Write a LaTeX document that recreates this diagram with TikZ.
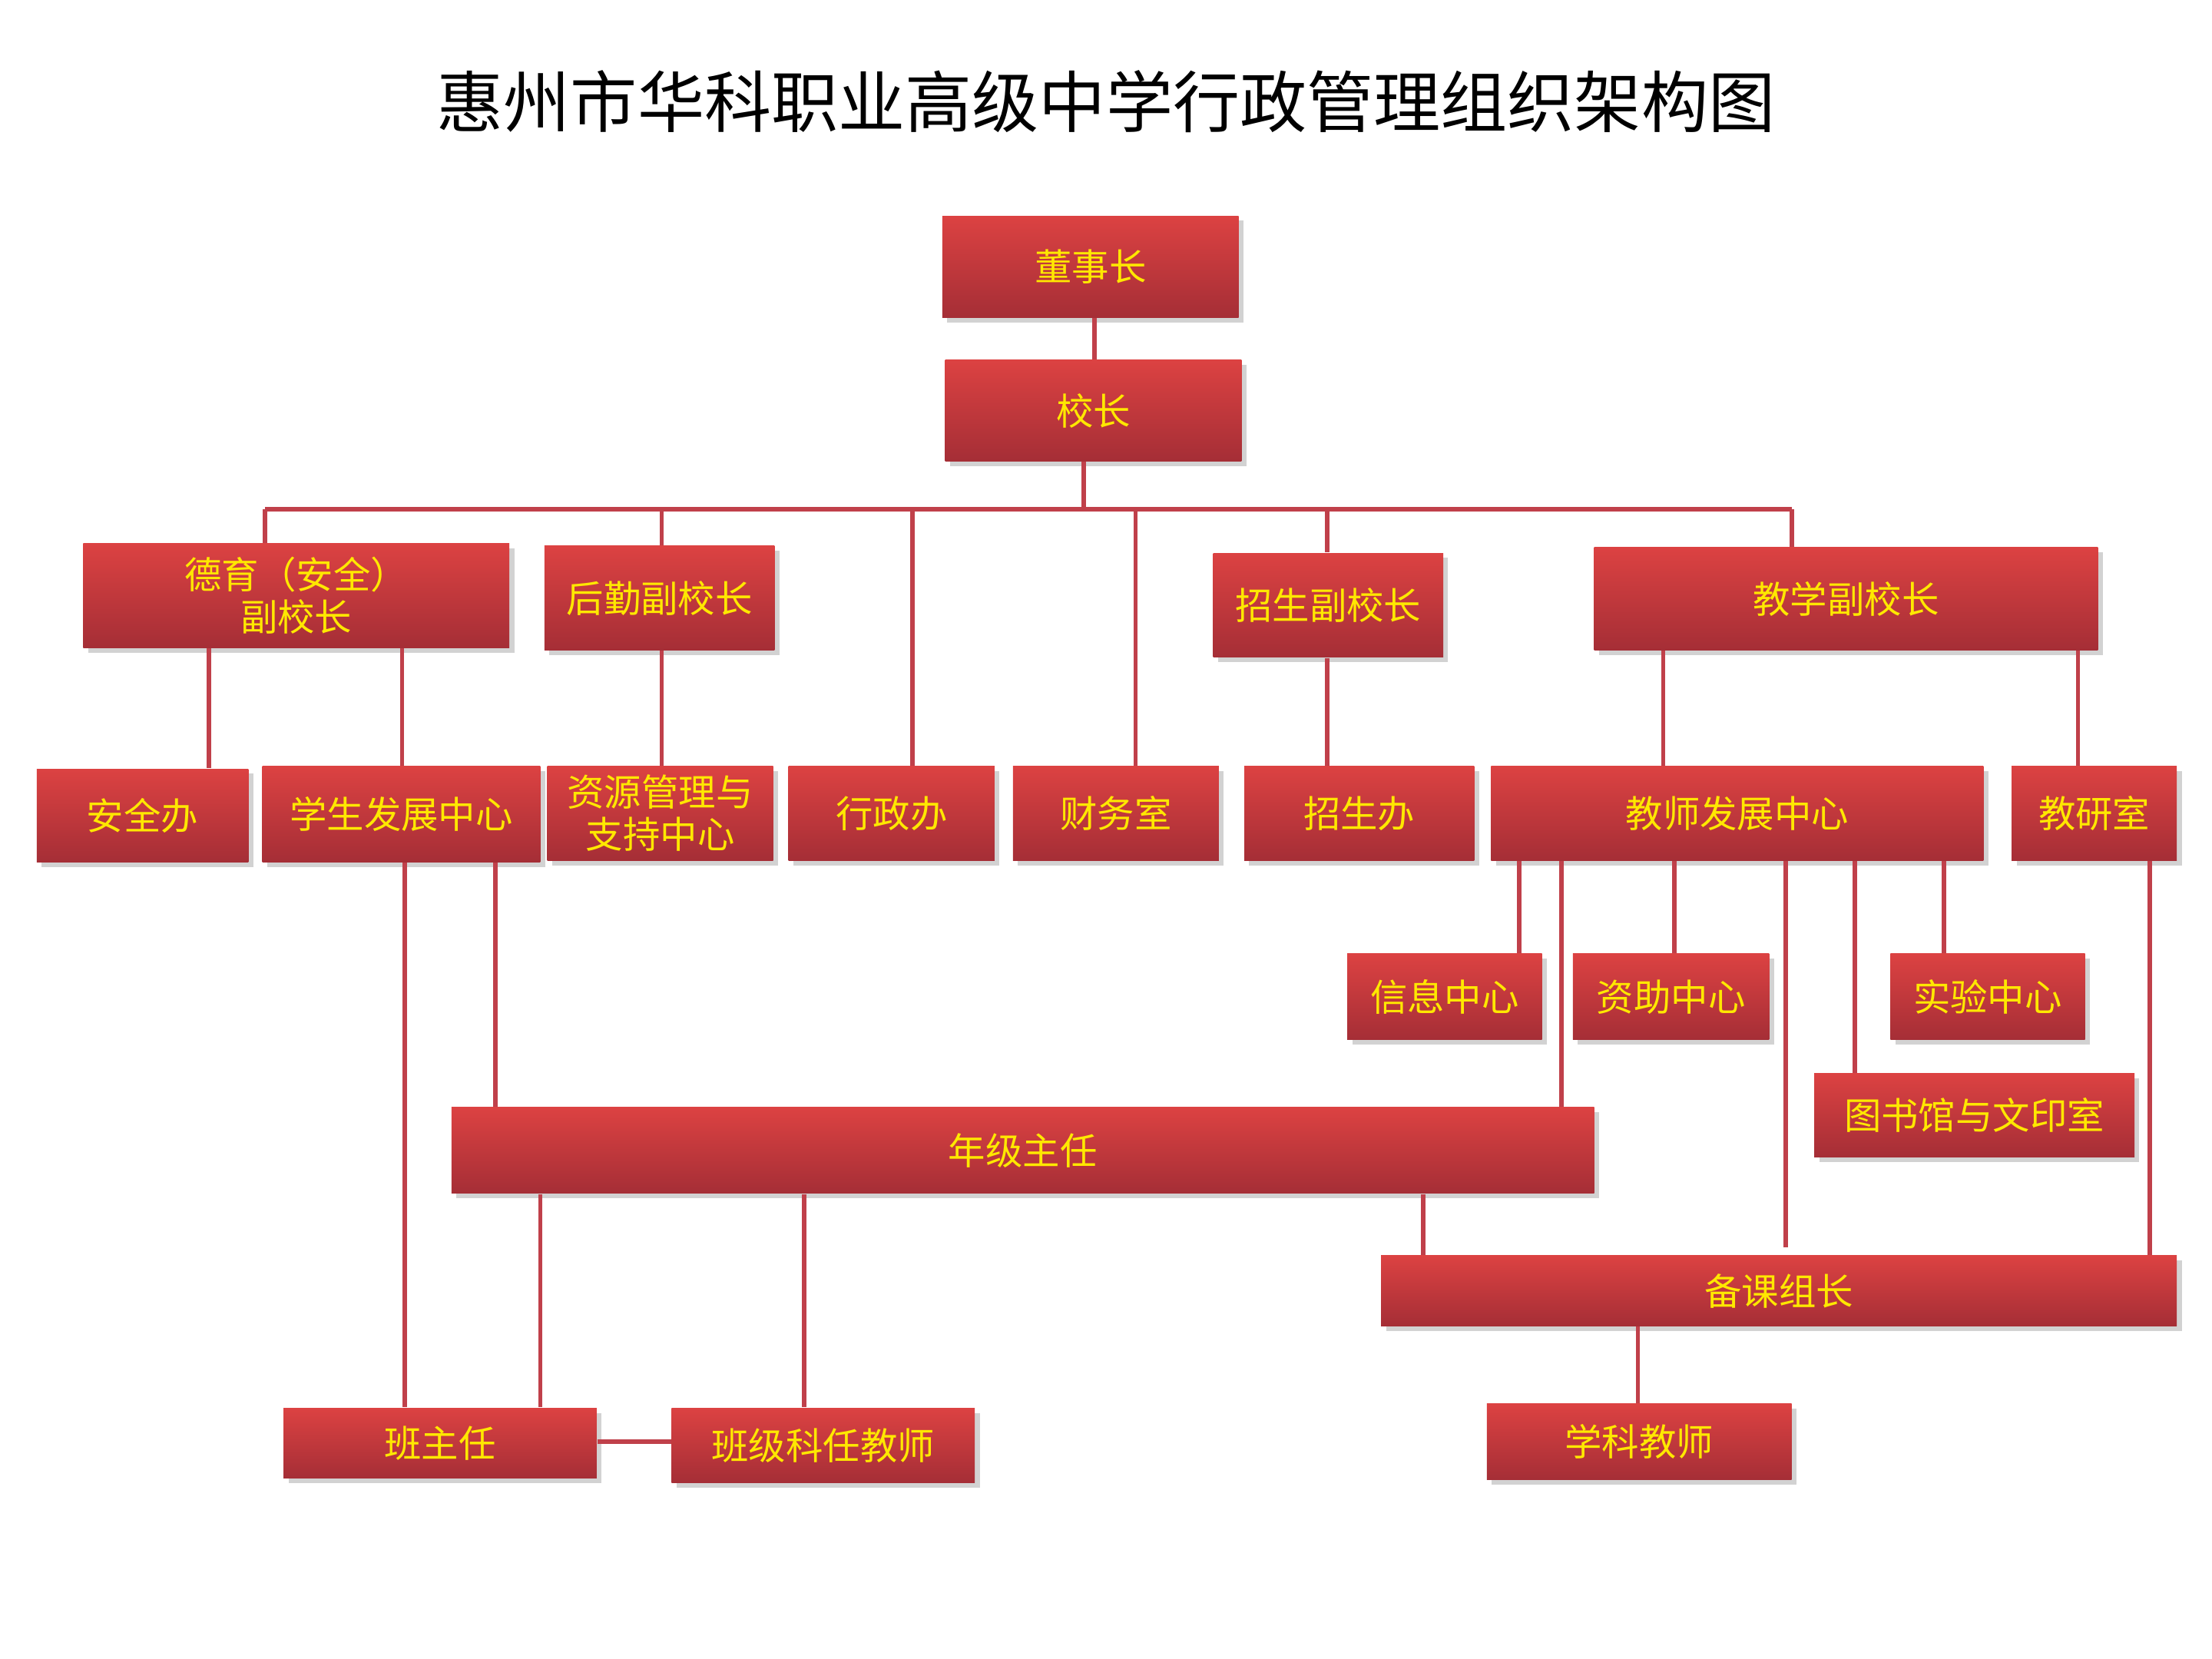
\documentclass[tikz,border=0pt]{standalone}
\usepackage{fontspec}
\setmainfont{Noto Sans CJK SC}
\usetikzlibrary{shadows}
\definecolor{ln}{HTML}{C0404A}
\definecolor{tp}{HTML}{DC4242}
\definecolor{bt}{HTML}{A52E36}
\definecolor{tx}{HTML}{FFE800}
\tikzset{box/.style={rectangle,inner sep=0pt,top color=tp,bottom color=bt,draw=none,text=tx,font=\fontsize{15}{17}\selectfont,align=center,drop shadow={shadow xshift=2pt,shadow yshift=-2pt,opacity=0.35}},
conn/.style={draw=ln,line width=1.8pt}}
\newcommand\bx[6]{\node[box,minimum width={(#4-#2)*0.02cm},minimum height={(#5-#3)*0.02cm}] (#1) at ({(#2+#4)/2},{(#3+#5)/2}) {#6};}
\begin{document}
\begin{tikzpicture}[x=0.02cm,y=-0.02cm]
\useasboundingbox[fill=white] (0,0) rectangle (1568,1176);
\node[font=\fontsize{27}{30}\selectfont] (title) at (784,72) {惠州市华科职业高级中学行政管理组织架构图};
\coordinate (busL) at (188,361);
\coordinate (busR) at (1270,361);
% connectors first
\begin{scope}[every path/.style={conn}]
\end{scope}
\bx{dsz}{668}{153}{878}{225}{董事长}
\bx{xz}{670}{255}{880}{327}{校长}
\bx{dy}{59}{385}{361}{459}{德育（安全）\\副校长}
\bx{hq}{386}{387}{549}{461}{后勤副校长}
\bx{zs}{860}{392}{1023}{466}{招生副校长}
\bx{jx}{1130}{388}{1487}{461}{教学副校长}
\bx{aq}{26}{545}{176}{611}{安全办}
\bx{xs}{186}{543}{383}{611}{学生发展中心}
\bx{zy}{388}{543}{548}{610}{资源管理与\\支持中心}
\bx{xzb}{559}{543}{705}{610}{行政办}
\bx{cw}{718}{543}{864}{610}{财务室}
\bx{zsb}{882}{543}{1045}{610}{招生办}
\bx{js}{1057}{543}{1406}{610}{教师发展中心}
\bx{jy}{1426}{543}{1543}{610}{教研室}
\bx{xx}{955}{676}{1093}{737}{信息中心}
\bx{zz}{1115}{676}{1254}{737}{资助中心}
\bx{sy}{1340}{676}{1478}{737}{实验中心}
\bx{ts}{1286}{761}{1513}{820}{图书馆与文印室}
\bx{nj}{320}{785}{1130}{846}{年级主任}
\bx{bk}{979}{890}{1543}{940}{备课组长}
\bx{bzr}{201}{998}{423}{1048}{班主任}
\bx{ky}{476}{998}{691}{1051}{班级科任教师}
\bx{xk}{1054}{995}{1270}{1049}{学科教师}
\begin{scope}[on background layer/.try]
\end{scope}
\path[conn] (dsz.south -| 776,0) -- (xz.north -| 776,0);
\path[conn] (xz.south -| 768,0) -- (768,361);
\path[conn] (busL) -- (busR);
\path[conn] (busL) -- (dy.north -| busL);
\path[conn] (469,361) -- (hq.north -| 469,0);
\path[conn] (647,361) -- (xzb.north -| 647,0);
\path[conn] (805,361) -- (cw.north -| 805,0);
\path[conn] (941,361) -- (zs.north -| 941,0);
\path[conn] (busR) -- (jx.north -| busR);
\path[conn] (dy.south -| 148,0) -- (aq.north -| 148,0);
\path[conn] (dy.south -| 285,0) -- (xs.north -| 285,0);
\path[conn] (hq.south -| 469,0) -- (zy.north -| 469,0);
\path[conn] (zs.south -| 941,0) -- (zsb.north -| 941,0);
\path[conn] (jx.south -| 1179,0) -- (js.north -| 1179,0);
\path[conn] (jx.south -| 1473,0) -- (jy.north -| 1473,0);
\path[conn] (xs.south -| 287,0) -- (bzr.north -| 287,0);
\path[conn] (xs.south -| 351,0) -- (nj.north -| 351,0);
\path[conn] (js.south -| 1077,0) -- (xx.north -| 1077,0);
\path[conn] (js.south -| 1107,0) -- (nj.north -| 1107,0);
\path[conn] (js.south -| 1187,0) -- (zz.north -| 1187,0);
\path[conn] (js.south -| 1266,0) -- (1266,884);
\path[conn] (js.south -| 1315,0) -- (ts.north -| 1315,0);
\path[conn] (js.south -| 1378,0) -- (sy.north -| 1378,0);
\path[conn] (jy.south -| 1524,0) -- (bk.north -| 1524,0);
\path[conn] (nj.south -| 383,0) -- (bzr.north -| 383,0);
\path[conn] (nj.south -| 570,0) -- (ky.north -| 570,0);
\path[conn] (nj.south -| 1009,0) -- (bk.north -| 1009,0);
\path[conn] (bzr.east |- 0,1022) -- (ky.west |- 0,1022);
\path[conn] (bk.south -| 1161,0) -- (xk.north -| 1161,0);
\end{tikzpicture}
\end{document}
